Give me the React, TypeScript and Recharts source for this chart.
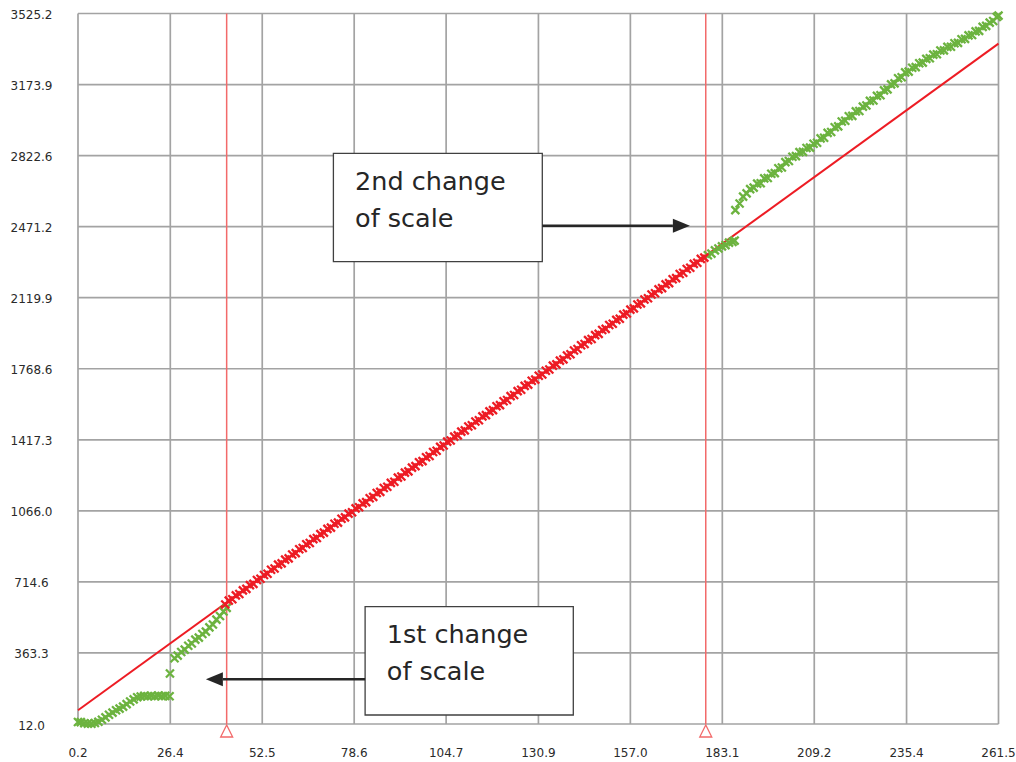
import { ScatterChart, Scatter, XAxis, YAxis, CartesianGrid, ReferenceLine, ReferenceArea } from 'recharts'

const xTicks = [0.2, 26.4, 52.5, 78.6, 104.7, 130.9, 157.0, 183.1, 209.2, 235.4, 261.5]
const yTicks = [12.0, 363.3, 714.6, 1066.0, 1417.3, 1768.6, 2119.9, 2471.2, 2822.6, 3173.9, 3525.2]

// straight reference line, end points
const fitLine = [{ x: 0.2, y: 80 }, { x: 261.5, y: 3376 }]

// x positions where the scale changes
const scaleChanges = [42.4, 178.4]

const noteSecond = ['2nd change', 'of scale']
const noteFirst = ['1st change', 'of scale']

// samples before the first change
const greenEarly: [number, number][] = [
  [0.2, 22], [1, 21], [2, 16], [3, 14], [4, 13], [5, 17], [6, 23], [7, 33], [8, 45], [9, 58],
  [10, 68], [11, 80], [12, 88], [13, 98], [14, 110], [15, 123], [16, 134], [17, 144], [18, 148],
  [19, 151], [20, 149], [21, 151], [22, 149], [23, 152], [24, 150], [25, 151], [26.2, 149],
  [26.3, 262], [27.6, 337], [28.5, 350], [29.5, 368], [30.5, 380], [31.5, 399], [32.5, 410],
  [33.5, 429], [34.5, 439], [35.5, 457], [36.5, 469], [37.5, 490], [38.5, 504], [39.5, 528],
  [40.5, 546], [41.5, 568], [42.4, 586],
]

// samples between the two changes
const redPoints: [number, number][] = [
  [42, 603], [43, 622], [44, 629], [45, 648], [46, 655], [47, 673], [48, 680], [49, 699], [50, 705],
  [51, 724], [52, 730], [53, 749], [54, 755], [55, 775], [56, 781], [57, 800], [58, 806], [59, 825],
  [60, 831], [61, 850], [62, 857], [63, 876], [64, 882], [65, 901], [66, 907], [67, 926], [68, 932],
  [69, 951], [70, 958], [71, 977], [72, 983], [73, 1002], [74, 1008], [75, 1027], [76, 1034],
  [77, 1052], [78, 1059], [79, 1078], [80, 1084], [81, 1103], [82, 1109], [83, 1128], [84, 1135],
  [85, 1154], [86, 1160], [87, 1179], [88, 1185], [89, 1204], [90, 1210], [91, 1230], [92, 1236],
  [93, 1255], [94, 1261], [95, 1280], [96, 1287], [97, 1306], [98, 1312], [99, 1331], [100, 1337],
  [101, 1357], [102, 1363], [103, 1382], [104, 1389], [105, 1408], [106, 1414], [107, 1433],
  [108, 1439], [109, 1458], [110, 1464], [111, 1483], [112, 1489], [113, 1508], [114, 1514],
  [115, 1533], [116, 1539], [117, 1558], [118, 1564], [119, 1583], [120, 1589], [121, 1608],
  [122, 1614], [123, 1633], [124, 1639], [125, 1658], [126, 1665], [127, 1684], [128, 1690],
  [129, 1709], [130, 1715], [131, 1734], [132, 1740], [133, 1759], [134, 1765], [135, 1784],
  [136, 1790], [137, 1809], [138, 1815], [139, 1834], [140, 1840], [141, 1859], [142, 1866],
  [143, 1885], [144, 1891], [145, 1910], [146, 1916], [147, 1935], [148, 1941], [149, 1960],
  [150, 1966], [151, 1985], [152, 1991], [153, 2010], [154, 2016], [155, 2036], [156, 2042],
  [157, 2061], [158, 2067], [159, 2086], [160, 2092], [161, 2111], [162, 2117], [163, 2136],
  [164, 2142], [165, 2161], [166, 2167], [167, 2186], [168, 2192], [169, 2211], [170, 2217],
  [171, 2237], [172, 2243], [173, 2262], [174, 2268], [175, 2287], [176, 2293], [177, 2312],
  [178, 2318],
]

// samples after the second change
const greenLate: [number, number][] = [
  [179, 2330], [180, 2338], [181, 2354], [182, 2363], [183, 2374], [184, 2380], [185, 2392],
  [186, 2396], [186.6, 2402], [186.8, 2553], [188, 2586], [189, 2620], [190, 2636], [191, 2657],
  [192, 2664], [193, 2684], [194, 2686], [195, 2710], [196, 2712], [197, 2733], [198, 2736],
  [199, 2760], [200, 2764], [201, 2790], [202, 2796], [203, 2817], [204, 2820], [205, 2840],
  [206, 2841], [207, 2860], [208, 2862], [209, 2881], [210, 2886], [211, 2908], [212, 2911],
  [213, 2935], [214, 2939], [215, 2963], [216, 2967], [217, 2991], [218, 2995], [219, 3017],
  [220, 3019], [221, 3041], [222, 3043], [223, 3065], [224, 3070], [225, 3093], [226, 3095],
  [227, 3118], [228, 3121], [229, 3145], [230, 3150], [231, 3175], [232, 3180], [233, 3205],
  [234, 3210], [235, 3234], [236, 3238], [237, 3257], [238, 3260], [239, 3279], [240, 3282],
  [241, 3301], [242, 3304], [243, 3322], [244, 3324], [245, 3342], [246, 3343], [247, 3360],
  [248, 3361], [249, 3378], [250, 3380], [251, 3398], [252, 3400], [253, 3417], [254, 3419],
  [255, 3437], [256, 3439], [257, 3459], [258, 3464], [259, 3480], [260, 3488], [261, 3508],
  [261.5, 3515],
]

const toXY = (pts: [number, number][]) => pts.map(([x, y]) => ({ x, y }))
const greenData = toXY([...greenEarly, ...greenLate])
const redData = toXY(redPoints)

const FONT = 'DejaVu Sans'
const RED = '#ed1c24'
const GREEN = '#6cb33f'
const MARK_RED = '#f26a6a'
const INK = '#262626'

const cross = (color: string) => (props: any) => {
  const { cx, cy } = props
  const s = 4
  return (
    <path
      d={`M${cx - s},${cy - s}L${cx + s},${cy + s}M${cx - s},${cy + s}L${cx + s},${cy - s}`}
      stroke={color}
      strokeWidth={2.3}
      fill="none"
    />
  )
}

function XTick({ x, y, payload }: any) {
  return (
    <text x={x} y={y + 32.5} textAnchor="middle" fontFamily={FONT} fontSize={12} fill="#2a2a2a">
      {Number(payload.value).toFixed(1)}
    </text>
  )
}

function YTick({ y, payload }: any) {
  return (
    <text x={31.5} y={y + 5.5} textAnchor="middle" fontFamily={FONT} fontSize={12} fill="#2a2a2a">
      {Number(payload.value).toFixed(1)}
    </text>
  )
}

// hollow triangle under each scale-change line
function Flag({ viewBox }: any) {
  const { x, y, height } = viewBox
  const b = y + height
  return (
    <polygon
      points={`${x},${b + 1} ${x - 6},${b + 13} ${x + 6},${b + 13}`}
      fill="#fff"
      stroke={MARK_RED}
      strokeWidth={1.3}
    />
  )
}

function NoteText({ viewBox, lines }: any) {
  const { x, y } = viewBox
  return (
    <text fontFamily={FONT} fontSize={25.5} fill={INK}>
      {lines.map((t: string, i: number) => (
        <tspan key={i} x={x + 21.7} y={y + 36.7 + i * 36.7}>{t}</tspan>
      ))}
    </text>
  )
}

function Arrow(props: any) {
  const { x1, y1, x2, y2 } = props
  const dir = x2 > x1 ? 1 : -1
  const base = x2 - dir * 17
  return (
    <g>
      <line x1={x1} y1={y1} x2={base} y2={y2} stroke={INK} strokeWidth={2.6} />
      <polygon points={`${x2},${y2} ${base},${y2 - 7} ${base},${y2 + 7}`} fill={INK} />
    </g>
  )
}

export default function App() {
  return (
    <div style={{ position: 'absolute', left: 0, top: 0, width: 1016, height: 762, background: '#fff' }}>
      <ScatterChart width={1016} height={762} margin={{ top: 13.5, right: 17.5, left: 0, bottom: 0 }}>
        <CartesianGrid stroke="#a3a3a3" strokeWidth={1.7} />
        <XAxis
          type="number"
          dataKey="x"
          domain={[0.2, 261.5]}
          ticks={xTicks}
          interval={0}
          height={38}
          axisLine={false}
          tickLine={false}
          tickSize={0}
          tickMargin={0}
          tick={<XTick />}
        />
        <YAxis
          type="number"
          dataKey="y"
          domain={[12, 3525.2]}
          ticks={yTicks}
          interval={0}
          width={78}
          axisLine={false}
          tickLine={false}
          tickSize={0}
          tickMargin={0}
          tick={<YTick />}
        />
        <ReferenceLine segment={fitLine} stroke={RED} strokeWidth={2} />
        {scaleChanges.map((x) => (
          <ReferenceLine key={x} x={x} stroke={MARK_RED} strokeWidth={1.5} label={<Flag />} />
        ))}
        <Scatter data={greenData} shape={cross(GREEN)} isAnimationActive={false} />
        <Scatter data={redData} shape={cross(RED)} isAnimationActive={false} />
        <ReferenceArea
          x1={72.7} x2={132.0} y1={2298} y2={2834}
          fill="#fff" fillOpacity={1} stroke="#404040" strokeWidth={1.3}
          label={<NoteText lines={noteSecond} />}
        />
        <ReferenceArea
          x1={81.7} x2={140.8} y1={56.5} y2={592}
          fill="#fff" fillOpacity={1} stroke="#404040" strokeWidth={1.3}
          label={<NoteText lines={noteFirst} />}
        />
        <ReferenceLine segment={[{ x: 132.0, y: 2476 }, { x: 173.9, y: 2476 }]} shape={Arrow} />
        <ReferenceLine segment={[{ x: 81.7, y: 233 }, { x: 36.5, y: 233 }]} shape={Arrow} />
      </ScatterChart>
    </div>
  )
}
